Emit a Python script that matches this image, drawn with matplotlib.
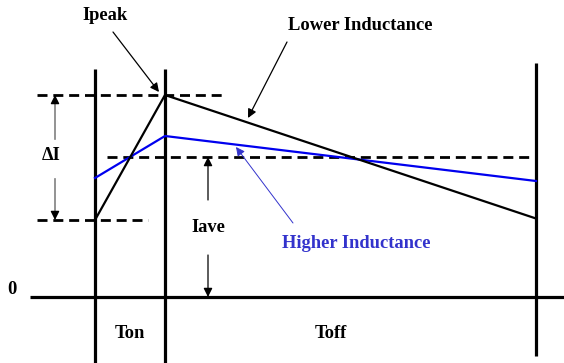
import matplotlib.pyplot as plt

# switching instants (time axis units)
t_on = 95
t_off = 165
t_end = 536

# current levels
i_peak = 202
i_valley = 77
i_ave = 140

# waveforms: (time, current)
low_L_t = [t_on, t_off, t_end]
low_L_i = [i_valley, i_peak, 78.5]
high_L_t = [t_on, t_off, t_end]
high_L_i = [119, 161, 116]

labels = {"peak": "Ipeak", "low": "Lower Inductance", "high": "Higher Inductance",
          "ave": "Iave", "delta": "\u0394I", "zero": "0", "ton": "Ton", "toff": "Toff"}

plt.rcParams['font.family'] = ['Liberation Serif', 'DejaVu Serif']
fig = plt.figure(figsize=(5.64, 3.63), dpi=100)
ax = fig.add_axes([0, 0, 1, 1])
ax.set_xlim(0, 564)
ax.set_ylim(-66, 297)
ax.axis('off')

blue = '#0000ee'
txt_blue = '#3333cc'
dash = (3.6, 2.1)


def arrow(tip, tail, ec='k', fc='k', lw=0.9):
    ax.annotate('', xy=tip, xytext=tail,
                arrowprops=dict(arrowstyle='-|>', edgecolor=ec, facecolor=fc, lw=lw,
                                mutation_scale=13, shrinkA=0, shrinkB=0))


# baseline and switching lines
ax.plot([30, 564], [0, 0], color='k', lw=2.3, solid_capstyle='butt')
ax.plot([t_on, t_on], [-66, 228], color='k', lw=2.3, solid_capstyle='butt')
ax.plot([t_off, t_off], [-66, 228], color='k', lw=2.3, solid_capstyle='butt')
ax.plot([t_end, t_end], [-59, 234], color='k', lw=2.3, solid_capstyle='butt')

# dashed reference levels
ax.plot([37, 226], [i_peak, i_peak], color='k', lw=2.0, dashes=dash)
ax.plot([37, 148], [i_valley, i_valley], color='k', lw=2.0, dashes=dash)
ax.plot([107, t_end], [i_ave, i_ave], color='k', lw=2.0, dashes=dash)

# waveforms
ax.plot(high_L_t, high_L_i, color=blue, lw=1.6)
ax.plot(low_L_t, low_L_i, color='k', lw=1.6)

fs = 13.3
# Delta I: grey shafts, black heads
ax.plot([55, 55], [158, i_peak - 6], color='#808080', lw=1.2)
ax.plot([55, 55], [118, i_valley + 6], color='#808080', lw=1.2)
arrow((55, i_peak), (55, i_peak - 7))
arrow((55, i_valley), (55, i_valley + 7))
ax.text(51, 142, labels["delta"], fontsize=fs, fontweight='bold',
        ha='center', va='center')

# Iave
arrow((208, i_ave), (208, 97))
arrow((208, 0), (208, 42))
ax.text(208, 70, labels["ave"], fontsize=fs, fontweight='bold',
        ha='center', va='center')

# Ipeak
ax.text(105, 281, labels["peak"], fontsize=fs, fontweight='bold',
        ha='center', va='center')
arrow((159, 205), (113, 265))

# Lower inductance
ax.text(360, 271, labels["low"], fontsize=fs, fontweight='bold',
        ha='center', va='center')
arrow((248, 179), (287, 255))

# Higher inductance
ax.text(356, 53, labels["high"], fontsize=fs, fontweight='bold',
        color=txt_blue, ha='center', va='center')
arrow((236, 150), (293, 74), ec=txt_blue, fc=txt_blue, lw=0.7)

# axis labels
ax.text(12, 8, labels["zero"], fontsize=fs, fontweight='bold', ha='center', va='center')
ax.text(130, -37, labels["ton"], fontsize=fs, fontweight='bold', ha='center', va='center')
ax.text(331, -37, labels["toff"], fontsize=fs, fontweight='bold', ha='center', va='center')

fig.savefig('out.png', dpi=100)
